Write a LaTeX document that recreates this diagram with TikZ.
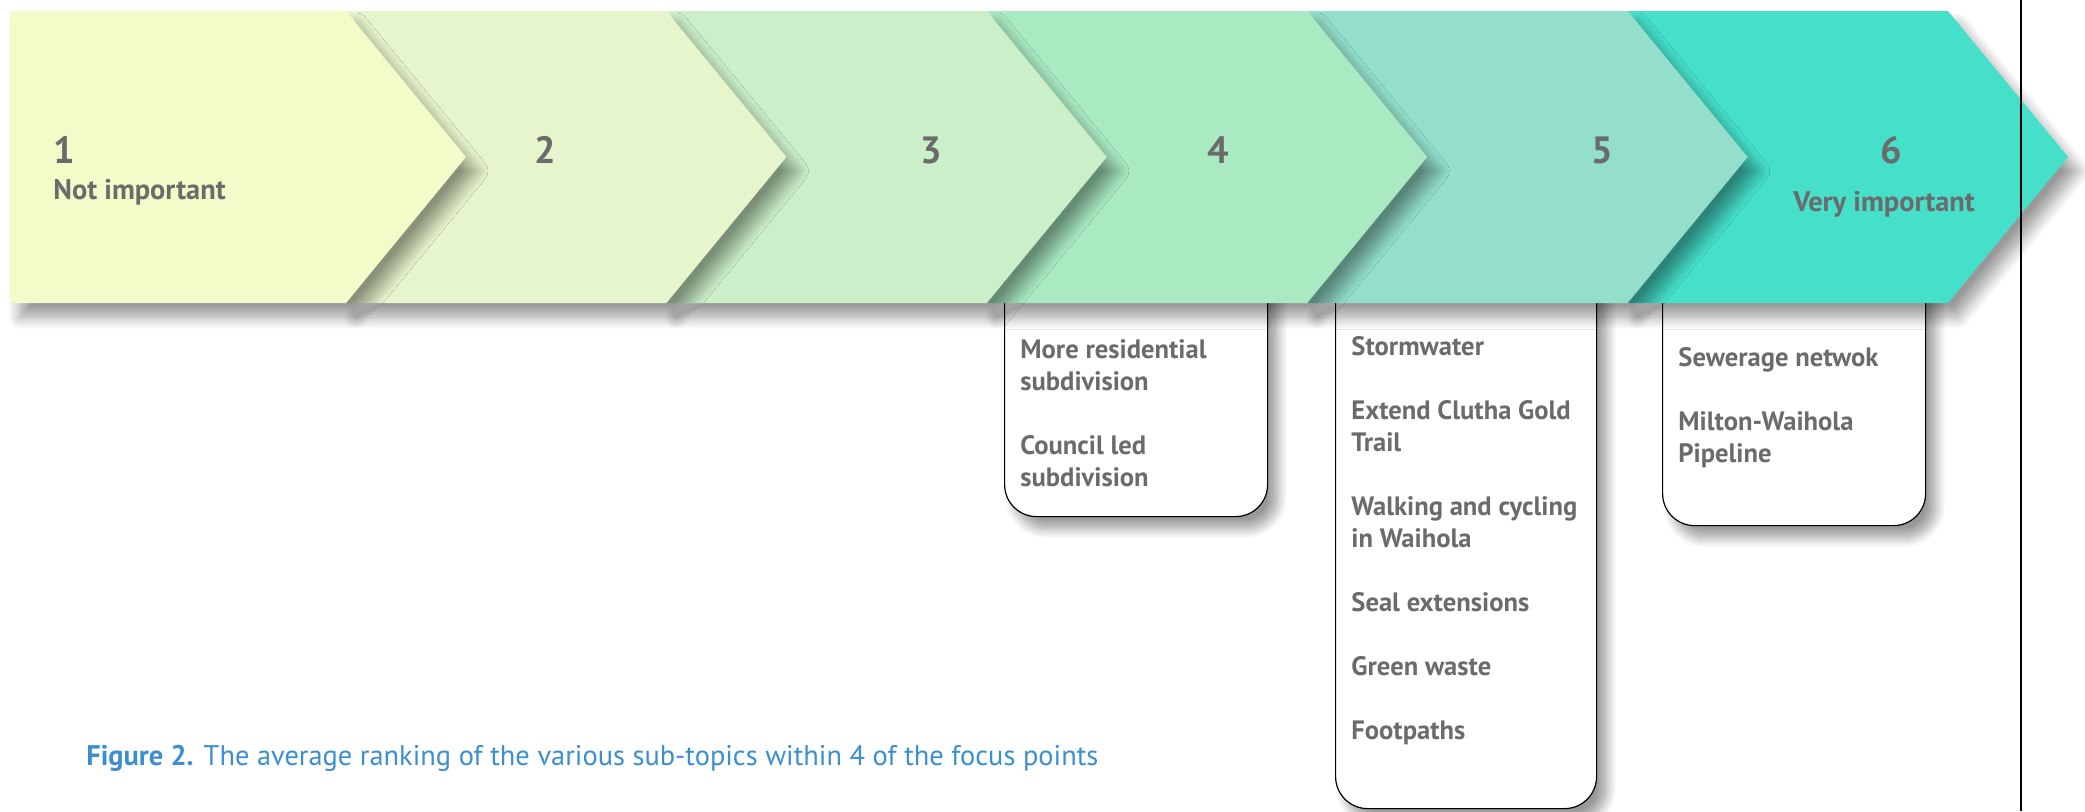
\documentclass[tikz,border=0pt]{standalone}
\usepackage{fontspec}
\setmainfont{PT Sans}
\usetikzlibrary{positioning,shadows.blur}
\definecolor{lev1}{HTML}{F3FCC8}
\definecolor{lev2}{HTML}{E7F5CC}
\definecolor{lev3}{HTML}{CBEFC8}
\definecolor{lev4}{HTML}{A9EAC2}
\definecolor{lev5}{HTML}{93DFCB}
\definecolor{lev6}{HTML}{45DFCA}
\definecolor{txtgrey}{HTML}{6B6B6B}
\definecolor{capblue}{HTML}{3B8FD0}

\begin{document}
\begin{tikzpicture}[x=0.5pt, y=-0.5pt, text=txtgrey, font=\bfseries\fontsize{13.3}{16}\selectfont]
	\tikzstyle{subbox}=[draw=black, line width=0.6pt, fill=white, rounded corners=16pt, anchor=north west, inner sep=0pt, blur shadow={shadow xshift=5pt, shadow yshift=-6pt, shadow blur radius=5pt, shadow blur steps=12, shadow opacity=40}]
	\tikzstyle{chev}=[blur shadow={shadow xshift=5pt, shadow yshift=-7pt, shadow blur radius=6pt, shadow blur steps=12, shadow opacity=40}]
	\tikzstyle{item}=[anchor=base west, align=left, inner sep=0pt]
	\tikzstyle{level}=[item, font=\bfseries\fontsize{14.2}{17}\selectfont]
	\tikzstyle{num}=[anchor=base, inner sep=0pt, font=\bfseries\fontsize{19}{22}\selectfont]
	\useasboundingbox (0,0) rectangle (2085,811);

	% lists hanging under the arrows
	\node[subbox, minimum width=131.5pt, minimum height=133pt]   (box4) at (1004,250) {};
	\node[subbox, minimum width=130.5pt, minimum height=279pt]   (box5) at (1335,250) {};
	\node[subbox, minimum width=131.5pt, minimum height=137.5pt] (box6) at (1662,250) {};

	% arrows, back to front
	\foreach \i/\c in {6/lev6,5/lev5,4/lev4,3/lev3,2/lev2} {
		\pgfmathsetmacro\a{346+320.4*(\i-1)}
		\pgfmathsetmacro\b{\a-320.4}
		\fill[chev, \c] (\b,11) -- (\a,11) -- (\a+120,157) -- (\a,303) -- (\b,303) -- (\b+120,157) -- cycle;
	}
	\fill[chev, lev1] (10,11) -- (346,11) -- (466,157) -- (346,303) -- (10,303) -- cycle;

	\node[num, anchor=base west] (n1) at (53,163)   {1};
	\node[num]                   (n2) at (545,163)  {2};
	\node[num]                   (n3) at (931,163)  {3};
	\node[num]                   (n4) at (1218,163) {4};
	\node[num]                   (n5) at (1602,163) {5};
	\node[num]                   (n6) at (1891,163) {6};
	\node[level] (lo) at (53,199)   {Not important};
	\node[level, anchor=base] (hi) at (1884,211) {Very important};

	% anchor base sits on the last line
	\node[item] (t4) at (1020,486) {More residential\\subdivision\\[16pt]Council led\\subdivision};
	\node[item] (t5) at (1351,739) {Stormwater\\[16pt]Extend Clutha Gold\\Trail\\[16pt]Walking and cycling\\in Waihola\\[16pt]Seal extensions\\[16pt]Green waste\\[16pt]Footpaths};
	\node[item] (t6) at (1678,462) {Sewerage netwok\\[16pt]Milton-Waihola\\Pipeline};

	\node[item, text=capblue, font=\fontsize{14.2}{17}\selectfont] (cap) at (86,765) {\textbf{Figure 2.} The average ranking of the various sub-topics within 4 of the focus points};

	\coordinate (vt) at (2021,0);
	\coordinate (vb) at (2021,811);
	\draw[line width=1pt] (vt) -- (vb);
\end{tikzpicture}
\end{document}
